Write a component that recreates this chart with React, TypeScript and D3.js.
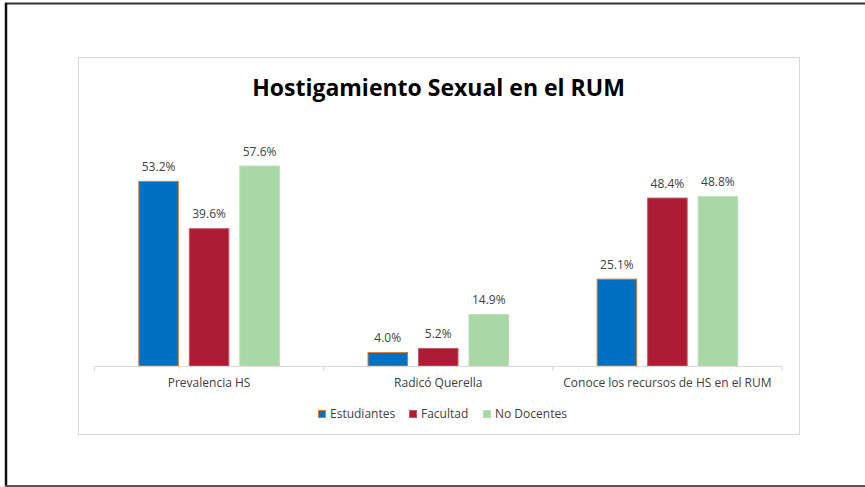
import React from "react";
import * as d3 from "d3";

const categories = ["Prevalencia HS", "Radicó Querella", "Conoce los recursos de HS en el RUM"];
const seriesNames = ["Estudiantes", "Facultad", "No Docentes"];
const estudiantes = [53.2, 4.0, 25.1];
const facultad = [39.6, 5.2, 48.4];
const noDocentes = [57.6, 14.9, 48.8];
const seriesColors = ["#0070C0", "#AC1C32", "#A9D8A6"];
const seriesStrokes = ["#D87A2E", "#C9576A", "#B8DDB5"];
const title = "Hostigamiento Sexual en el RUM";

const seriesValues = [estudiantes, facultad, noDocentes];

export default function App() {
  const W = 865;
  const H = 487;
  const font = "'Open Sans', 'Noto Sans', sans-serif";
  const textColor = "#404040";

  const x0 = d3.scaleBand<string>().domain(categories).range([94.5, 782]).paddingInner(0).paddingOuter(0);
  const x1 = d3
    .scaleBand<string>()
    .domain(seriesNames)
    .range([0, x0.bandwidth()])
    .paddingInner(0.198)
    .paddingOuter(0.868);
  const y = d3.scaleLinear().domain([0, 60]).range([366, 157.2]);
  const axisY = y(0);

  const boundaries = [...categories.map((c) => x0(c) as number), x0.range()[1]];

  const legendX = [318, 409, 483];

  return (
    <svg width={W} height={H} style={{ position: "absolute", left: 0, top: 0 }}>
      <rect x={0} y={0} width={W} height={H} fill="#fff" />
      {/* outer frame */}
      <line x1={5} x2={W} y1={3.5} y2={3.5} stroke="#333" strokeWidth={2} />
      <line x1={6} x2={6} y1={3} y2={H} stroke="#111" strokeWidth={2.5} />
      <line x1={5} x2={W} y1={486} y2={486} stroke="#555" strokeWidth={2} />
      {/* chart area */}
      <rect x={78.5} y={57.5} width={721} height={377} fill="#fff" stroke="#d9d9d9" strokeWidth={1} />
      <text
        x={438.5}
        y={96}
        textAnchor="middle"
        fontFamily={font}
        fontWeight="bold"
        fontSize={23}
        fill="#000"
      >
        {title}
      </text>
      {/* bars */}
      {categories.map((c, ci) => (
        <g key={c} transform={`translate(${x0(c)},0)`}>
          {seriesNames.map((s, si) => {
            const v = seriesValues[si][ci];
            const bx = x1(s) as number;
            const bw = x1.bandwidth();
            return (
              <g key={s}>
                <rect
                  x={bx + 0.5}
                  y={y(v) + 0.5}
                  width={bw - 1}
                  height={axisY - y(v) - 0.5}
                  fill={seriesColors[si]}
                  stroke={seriesStrokes[si]}
                  strokeWidth={1}
                />
                <text
                  x={bx + bw / 2}
                  y={y(v) - 10}
                  textAnchor="middle"
                  fontFamily={font}
                  fontSize={12}
                  fill={textColor}
                >
                  {v.toFixed(1) + "%"}
                </text>
              </g>
            );
          })}
        </g>
      ))}
      {/* axis */}
      <line x1={x0.range()[0]} x2={x0.range()[1]} y1={axisY + 0.5} y2={axisY + 0.5} stroke="#d9d9d9" strokeWidth={1} />
      {boundaries.map((b, i) => (
        <line key={i} x1={b} x2={b} y1={axisY} y2={axisY + 5} stroke="#d9d9d9" strokeWidth={1} />
      ))}
      {categories.map((c) => (
        <text
          key={c}
          x={(x0(c) as number) + x0.bandwidth() / 2}
          y={387}
          textAnchor="middle"
          fontFamily={font}
          fontSize={12}
          fill={textColor}
        >
          {c}
        </text>
      ))}
      {/* legend */}
      {seriesNames.map((s, si) => (
        <g key={s}>
          <rect
            x={legendX[si] + 0.5}
            y={410.5}
            width={7}
            height={7}
            fill={seriesColors[si]}
            stroke={seriesStrokes[si]}
            strokeWidth={1}
          />
          <text x={legendX[si] + 12} y={418} fontFamily={font} fontSize={12} fill={textColor}>
            {s}
          </text>
        </g>
      ))}
    </svg>
  );
}
